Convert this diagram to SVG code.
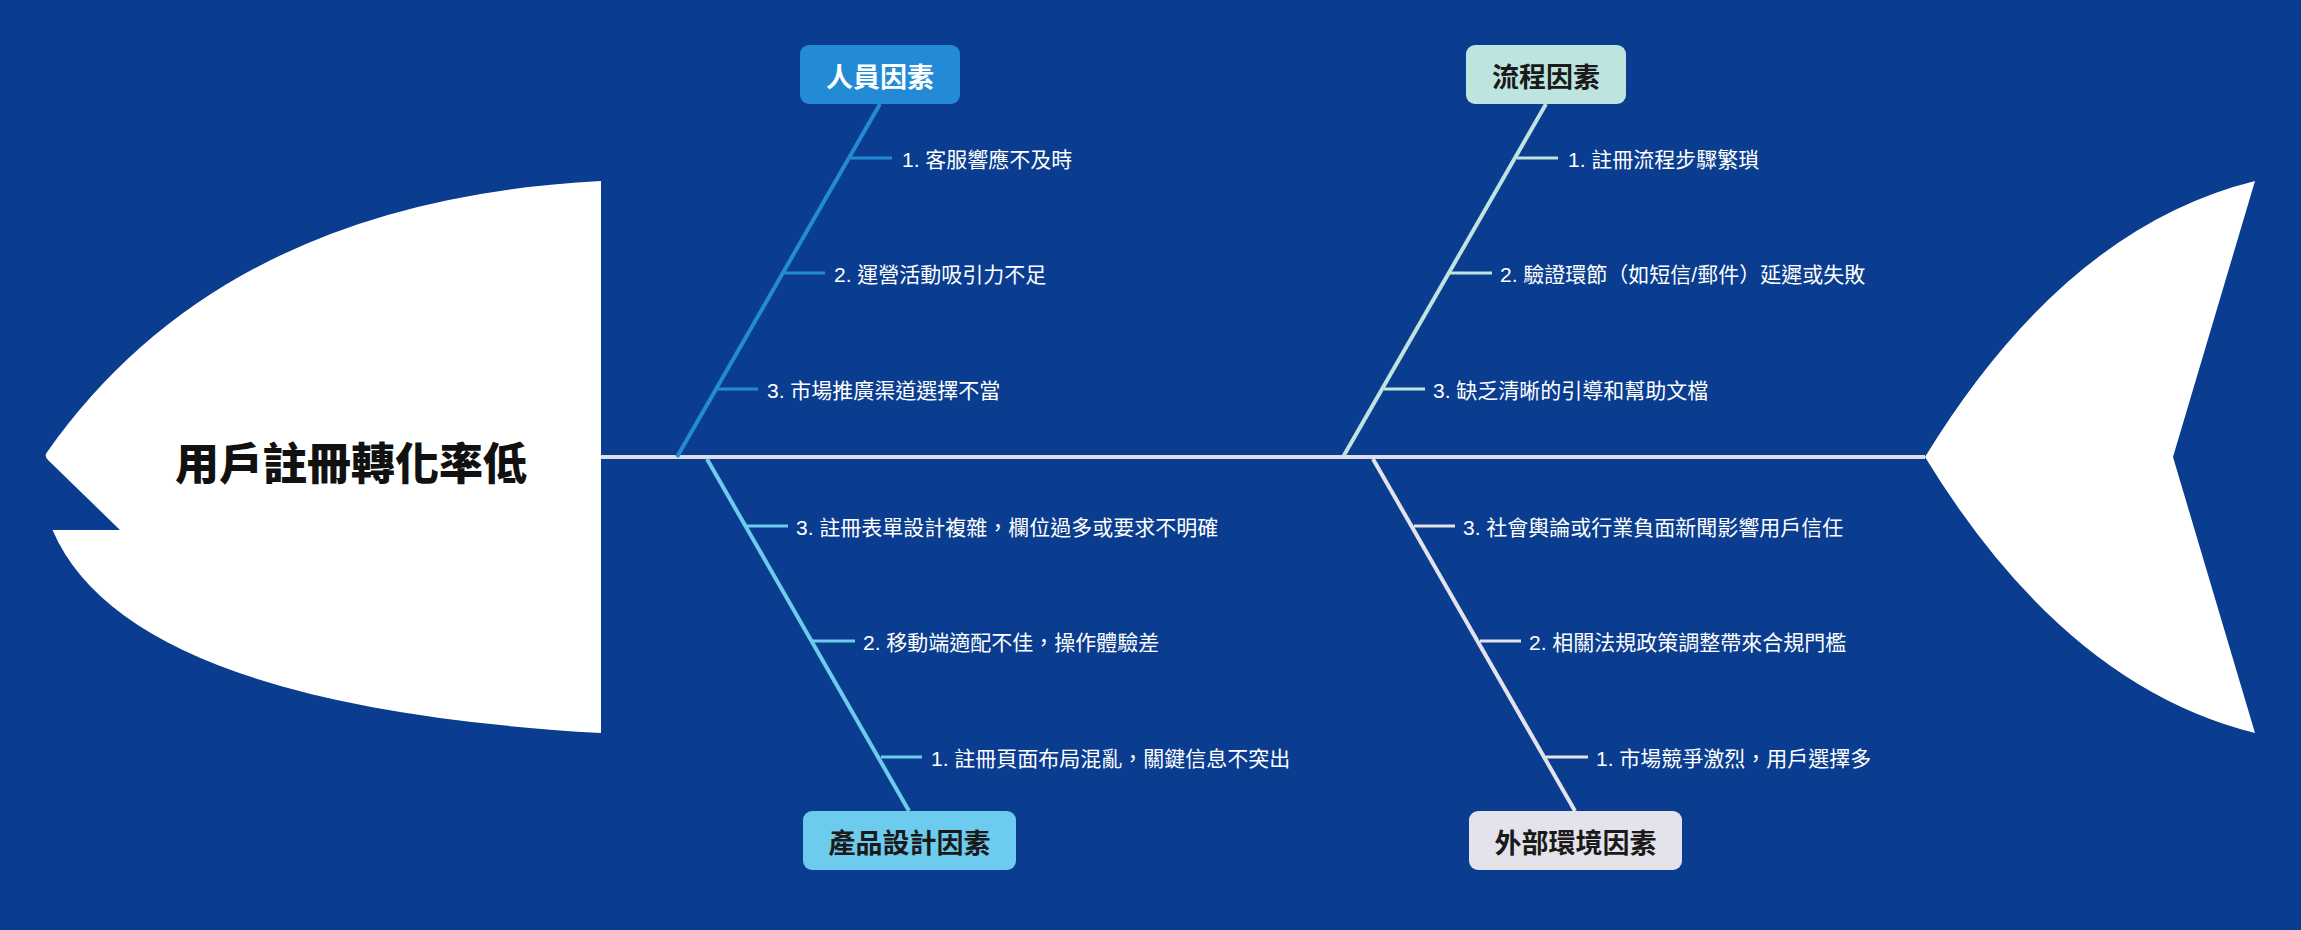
<svg xmlns="http://www.w3.org/2000/svg" width="2301" height="930" viewBox="0 0 2301 930">
  <style>
    .sub { font-family: "Liberation Sans", "Noto Sans CJK TC", "Noto Sans CJK SC", sans-serif; font-size: 21px; fill: #ffffff; dominant-baseline: central; }
    .cat { font-family: "Noto Sans CJK TC", "Noto Sans CJK SC", sans-serif; font-size: 27px; font-weight: 700; text-anchor: middle; dominant-baseline: central; }
    .head { font-family: "Noto Sans CJK TC", "Noto Sans CJK SC", sans-serif; font-size: 44px; font-weight: 900; fill: #111111; text-anchor: middle; dominant-baseline: central; }
    .bone { fill: none; stroke-width: 4; stroke-linecap: butt; }
    .tick { fill: none; stroke-width: 3; }
  </style>
  <rect x="0" y="0" width="2301" height="930" fill="#0a3d8f"/>

  <g id="fish-head">
    <path d="M 601 181 L 601 733 Q 128 706 52.5 530 L 120 530 L 48.5 460.5 Q 43.5 456 47.5 451.5 Q 225 200 601 181 Z" fill="#ffffff"/>
    <text class="head" x="351" y="461">用戶註冊轉化率低</text>
  </g>

  <g id="fish-tail">
    <path d="M 1925 457 Q 2065 228 2255 181 L 2173 457 L 2255 733 Q 2065 686 1925 457 Z" fill="#ffffff"/>
  </g>

  <g id="connectors">
    <line id="spine" x1="601" y1="457" x2="1925" y2="457" stroke="#dedde9" stroke-width="4"/>
    <!-- 人員因素 -->
    <line class="bone" x1="880" y1="104" x2="677" y2="457" stroke="#238bd6"/>
    <line class="tick" x1="851" y1="158" x2="892" y2="158" stroke="#238bd6"/>
    <line class="tick" x1="784" y1="273" x2="825" y2="273" stroke="#238bd6"/>
    <line class="tick" x1="717" y1="389" x2="758" y2="389" stroke="#238bd6"/>
    <!-- 流程因素 -->
    <line class="bone" x1="1546" y1="104" x2="1343" y2="457" stroke="#bde4df"/>
    <line class="tick" x1="1517" y1="158" x2="1558" y2="158" stroke="#bde4df"/>
    <line class="tick" x1="1450" y1="273" x2="1492" y2="273" stroke="#bde4df"/>
    <line class="tick" x1="1384" y1="389" x2="1425" y2="389" stroke="#bde4df"/>
    <!-- 產品設計因素 -->
    <line class="bone" x1="707" y1="459" x2="909" y2="811" stroke="#6dcbee"/>
    <line class="tick" x1="746" y1="526" x2="788" y2="526" stroke="#6dcbee"/>
    <line class="tick" x1="813" y1="641" x2="855" y2="641" stroke="#6dcbee"/>
    <line class="tick" x1="881" y1="757" x2="922" y2="757" stroke="#6dcbee"/>
    <!-- 外部環境因素 -->
    <line class="bone" x1="1373" y1="459" x2="1575" y2="811" stroke="#e4e2ea"/>
    <line class="tick" x1="1414" y1="526" x2="1455" y2="526" stroke="#e4e2ea"/>
    <line class="tick" x1="1480" y1="641" x2="1521" y2="641" stroke="#e4e2ea"/>
    <line class="tick" x1="1546" y1="757" x2="1588" y2="757" stroke="#e4e2ea"/>
  </g>

  <g id="cat-people">
    <rect x="800" y="45" width="160" height="59" rx="9" fill="#238bd6"/>
    <text class="cat" x="880" y="75" fill="#ffffff">人員因素</text>
    <text class="sub" x="902" y="159">1. 客服響應不及時</text>
    <text class="sub" x="834" y="274">2. 運營活動吸引力不足</text>
    <text class="sub" x="767" y="390">3. 市場推廣渠道選擇不當</text>
  </g>

  <g id="cat-process">
    <rect x="1466" y="45" width="160" height="59" rx="9" fill="#bde4df"/>
    <text class="cat" x="1546" y="75" fill="#1a1a1a">流程因素</text>
    <text class="sub" x="1568" y="159">1. 註冊流程步驟繁瑣</text>
    <text class="sub" x="1500" y="274">2. 驗證環節（如短信/郵件）延遲或失敗</text>
    <text class="sub" x="1433" y="390">3. 缺乏清晰的引導和幫助文檔</text>
  </g>

  <g id="cat-product">
    <rect x="803" y="811" width="213" height="59" rx="9" fill="#6dcbee"/>
    <text class="cat" x="909.5" y="841" fill="#1a1a1a">產品設計因素</text>
    <text class="sub" x="796" y="527">3. 註冊表單設計複雜，欄位過多或要求不明確</text>
    <text class="sub" x="863" y="642">2. 移動端適配不佳，操作體驗差</text>
    <text class="sub" x="931" y="758">1. 註冊頁面布局混亂，關鍵信息不突出</text>
  </g>

  <g id="cat-external">
    <rect x="1469" y="811" width="213" height="59" rx="9" fill="#e4e2ea"/>
    <text class="cat" x="1575.5" y="841" fill="#1a1a1a">外部環境因素</text>
    <text class="sub" x="1463" y="527">3. 社會輿論或行業負面新聞影響用戶信任</text>
    <text class="sub" x="1529" y="642">2. 相關法規政策調整帶來合規門檻</text>
    <text class="sub" x="1596" y="758">1. 市場競爭激烈，用戶選擇多</text>
  </g>
</svg>
